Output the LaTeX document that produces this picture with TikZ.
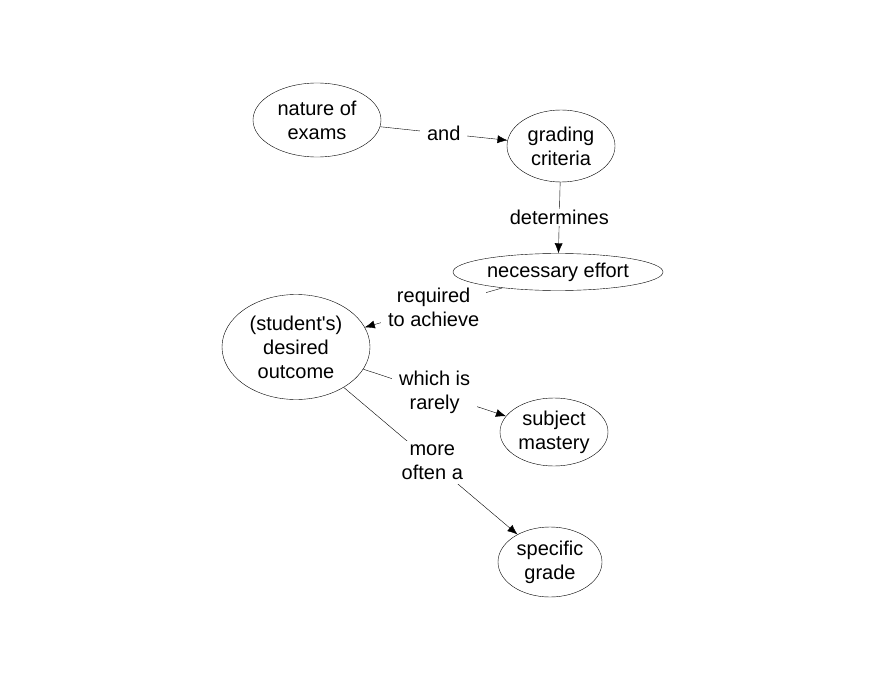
\documentclass[tikz,border=0pt]{standalone}
\usepackage{fontspec}
\setmainfont{Liberation Sans}
\usetikzlibrary{shapes.geometric, arrows}
\usetikzlibrary{positioning, arrows.meta}

\begin{document}
\begin{tikzpicture}[
        x=1pt, y=-1pt,
        font=\fontsize{20}{24}\selectfont,
        concept/.style={ellipse, draw=black, inner sep=0pt, align=center},
        link/.style={fill=white, inner xsep=7pt, inner ysep=1pt, align=center},
        arrow/.style={-{Latex[length=10pt,width=8pt]}}
    ]
        \useasboundingbox (0,0) rectangle (886,682);

        % ===== 概念节点 =====
        \node (exams) [concept, minimum width=128pt, minimum height=74pt] at (317,120) {nature of\\exams};
        \node (criteria) [concept, minimum width=108pt, minimum height=72pt] at (561,146) {grading\\criteria};
        \node (effort) [concept, minimum width=210pt, minimum height=37pt] at (558,272) {necessary effort};
        \node (outcome) [concept, minimum width=148pt, minimum height=105pt] at (296,347) {(student\textquotesingle s)\\desired\\outcome};
        \node (mastery) [concept, minimum width=108pt, minimum height=68pt] at (554,432) {subject\\mastery};
        \node (grade) [concept, minimum width=104pt, minimum height=70pt] at (550,562) {specific\\grade};

        % ===== 连线 =====
        \draw [arrow] (exams) -- node[link] {and} (criteria);
        \draw [arrow] (criteria) -- node[link, inner xsep=2pt] {determines} (effort);
        \draw [arrow] (effort) -- node[link] {required\\to achieve} (outcome);
        \draw [arrow] (outcome) -- node[link] {which is\\rarely} (mastery);
        \draw [arrow] (outcome) -- node[link, pos=0.51, inner ysep=4pt] {more\\often a} (grade);

    \end{tikzpicture}
\end{document}
